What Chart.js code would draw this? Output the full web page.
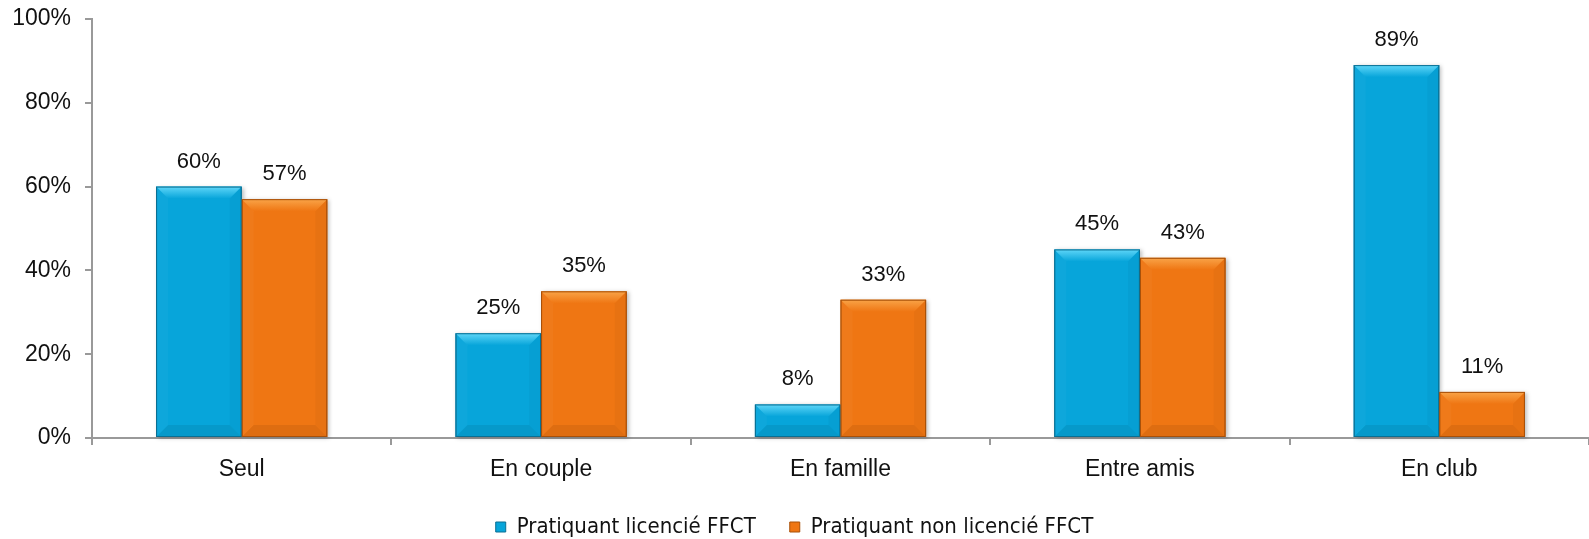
<!DOCTYPE html>
<html>
<head>
<meta charset="utf-8">
<script src="https://cdn.jsdelivr.net/npm/chart.js@4/dist/chart.umd.min.js"></script>
<style>
  body { margin: 0; background: #fff; }
  #wrap { width: 1589px; height: 539px; position: relative; }
</style>
</head>
<body>
<div id="wrap"><canvas id="modeChart"></canvas></div>
<script>
// data
const categories = ['Seul', 'En couple', 'En famille', 'Entre amis', 'En club'];
const licencies = [60, 25, 8, 45, 89];
const nonLicencies = [57, 35, 33, 43, 11];
const seriesNames = ['Pratiquant licencié FFCT', 'Pratiquant non licencié FFCT'];
const yTicks = [0, 20, 40, 60, 80, 100];

const BLUE = '#07a5da';
const ORANGE = '#ef7613';
const LIGHT = { [BLUE]: '#5fd6f8', [ORANGE]: '#f9a448' };
const DARK = { [BLUE]: '#0a6f93', [ORANGE]: '#a85009' };
const FONT = '"Liberation Sans", Arial, sans-serif';

// bevel look on the bars, like the office chart
const bevelPlugin = {
  id: 'bevel',
  beforeDatasetsDraw(chart) {
    const ctx = chart.ctx;
    ctx.save();
    ctx.shadowColor = 'rgba(0,0,0,0.25)';
    ctx.shadowBlur = 4;
    ctx.shadowOffsetX = 2;
    ctx.shadowOffsetY = 1;
    chart.data.datasets.forEach((ds, i) => {
      chart.getDatasetMeta(i).data.forEach(bar => {
        const w = bar.width;
        ctx.fillStyle = ds.backgroundColor;
        ctx.fillRect(bar.x - w / 2, bar.y, w, bar.base - bar.y);
      });
    });
    ctx.restore();
  },
  afterDatasetsDraw(chart) {
    const ctx = chart.ctx;
    chart.data.datasets.forEach((ds, i) => {
      const col = ds.backgroundColor;
      chart.getDatasetMeta(i).data.forEach(bar => {
        const l = bar.x - bar.width / 2, r = bar.x + bar.width / 2;
        const t = bar.y, b = bar.base;
        const bv = Math.min(12, (b - t) / 2);
        ctx.save();
        // top face
        const g = ctx.createLinearGradient(0, t, 0, t + bv);
        g.addColorStop(0, LIGHT[col]);
        g.addColorStop(1, col);
        ctx.fillStyle = g;
        ctx.beginPath();
        ctx.moveTo(l, t); ctx.lineTo(r, t); ctx.lineTo(r - bv, t + bv); ctx.lineTo(l + bv, t + bv);
        ctx.closePath(); ctx.fill();
        // side faces, barely visible
        ctx.fillStyle = 'rgba(255,255,255,0.03)';
        ctx.beginPath();
        ctx.moveTo(l, t); ctx.lineTo(l + bv, t + bv); ctx.lineTo(l + bv, b - bv); ctx.lineTo(l, b);
        ctx.closePath(); ctx.fill();
        ctx.fillStyle = 'rgba(0,0,0,0.03)';
        ctx.beginPath();
        ctx.moveTo(r, t); ctx.lineTo(r - bv, t + bv); ctx.lineTo(r - bv, b - bv); ctx.lineTo(r, b);
        ctx.closePath(); ctx.fill();
        // bottom face
        ctx.fillStyle = 'rgba(0,0,0,0.07)';
        ctx.beginPath();
        ctx.moveTo(l, b); ctx.lineTo(l + bv, b - bv); ctx.lineTo(r - bv, b - bv); ctx.lineTo(r, b);
        ctx.closePath(); ctx.fill();
        // edge
        ctx.strokeStyle = DARK[col];
        ctx.lineWidth = 1;
        ctx.strokeRect(l + 0.5, t + 0.5, r - l - 1, b - t - 1);
        ctx.restore();
      });
    });
    // value labels
    ctx.save();
    ctx.fillStyle = '#111';
    ctx.font = '22px ' + FONT;
    ctx.textAlign = 'center';
    ctx.textBaseline = 'alphabetic';
    chart.data.datasets.forEach((ds, i) => {
      chart.getDatasetMeta(i).data.forEach((bar, j) => {
        ctx.fillText(ds.data[j] + '%', bar.x, bar.y - 19);
      });
    });
    ctx.restore();
  }
};

const ctx = document.getElementById('modeChart').getContext('2d');

const modeChart = new Chart(ctx, {
  type: 'bar',
  data: {
    labels: categories,
    datasets: [{
      label: seriesNames[0],
      data: licencies,
      backgroundColor: BLUE,
      borderColor: DARK[BLUE],
      borderWidth: 1
    }, {
      label: seriesNames[1],
      data: nonLicencies,
      backgroundColor: ORANGE,
      borderColor: DARK[ORANGE],
      borderWidth: 1
    }]
  },
  options: {
    responsive: true,
    maintainAspectRatio: false,
    animation: false,
    datasets: { bar: { barPercentage: 1, categoryPercentage: 0.572 } },
    layout: { padding: { top: 19, right: 0, left: 0, bottom: -9 } },
    plugins: {
      legend: {
        position: 'bottom',
        labels: {
          boxWidth: 10,
          boxHeight: 10,
          padding: 34,
          color: '#111',
          font: { family: '"Liberation Sans Narrow", "DejaVu Sans Condensed", sans-serif', size: 22 }
        }
      },
      tooltip: { enabled: false }
    },
    scales: {
      x: {
        grid: { drawOnChartArea: false, offset: true, tickLength: 7, color: '#999', lineWidth: 2 },
        border: { color: '#999', width: 2 },
        ticks: { color: '#111', padding: 11, font: { family: FONT, size: 23 } },
        afterFit: (scale) => { scale.height = 44; }
      },
      y: {
        min: 0,
        max: 100,
        afterBuildTicks: (scale) => { scale.ticks = yTicks.map(v => ({ value: v })); },
        grid: { drawOnChartArea: false, tickLength: 7, color: '#999', lineWidth: 2 },
        border: { color: '#999', width: 2 },
        ticks: {
          color: '#111',
          padding: 14,
          font: { family: FONT, size: 23 },
          callback: (v) => v + '%'
        },
        afterFit: (scale) => {
          scale.width = 92;
          scale.paddingTop = 0;
          scale.paddingBottom = 0;
        }
      }
    }
  },
  plugins: [bevelPlugin]
});
</script>
</body>
</html>
